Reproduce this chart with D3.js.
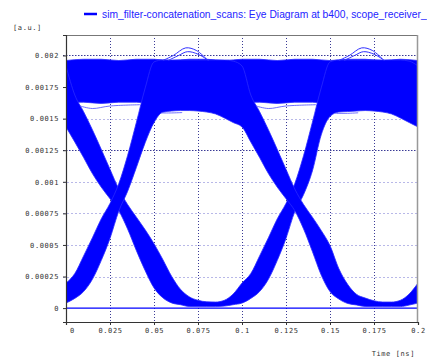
<!DOCTYPE html>
<html><head><meta charset="utf-8">
<script src="https://cdn.jsdelivr.net/npm/d3@7/dist/d3.min.js"></script>
<style>html,body{margin:0;padding:0;background:#fff;overflow:hidden}</style>
</head><body>
<svg id="c" width="427" height="361"></svg>
<script>
// ---------- data ----------
const legendLabel = "sim_filter-concatenation_scans: Eye Diagram at b400, scope_receiver_";
const yUnitLabel = "[a.u.]";
const xUnitLabel = "Time [ns]";
const xTicks = [0,0.025,0.05,0.075,0.1,0.125,0.15,0.175,0.2];
const xTickLabels = ["0","0.025","0.05","0.075","0.1","0.125","0.15","0.175","0.2"];
const yTicks = [0,0.00025,0.0005,0.00075,0.001,0.00125,0.0015,0.00175,0.002];
const yTickLabels = ["0","0.00025","0.0005","0.00075","0.001","0.00125","0.0015","0.00175","0.002"];

const timeGrid = [0,0.005,0.01,0.015,0.02,0.025,0.03,0.035,0.04,0.045,0.05,0.055,0.06,0.065,0.07,0.075,0.08,0.085,0.09,0.095,0.1,0.105,0.11,0.115,0.12,0.125,0.13,0.135,0.14,0.145,0.15,0.155,0.16,0.165,0.17,0.175,0.18,0.185,0.19,0.195,0.2];

// band of traces that starts high, falls through the first crossing, rises through the second
const bandAUpper = [0.001917,0.001687,0.001555,0.001412,0.001258,0.001099,0.000943,0.000820,0.000720,0.000620,0.000510,0.000385,0.000252,0.000150,0.000090,0.000062,0.000050,0.000048,0.000062,0.000112,0.000198,0.000274,0.000413,0.000557,0.000706,0.000829,0.000986,0.001208,0.001471,0.001743,0.001949,0.001964,0.001964,0.001964,0.001964,0.001964,0.001964,0.001964,0.001964,0.001955,0.001917];
const bandALower = [0.001434,0.001315,0.001192,0.001065,0.000958,0.000866,0.000771,0.000626,0.000455,0.000296,0.000160,0.000082,0.000041,0.000027,0.000013,0.000012,0.000012,0.000012,0.000016,0.000027,0.000040,0.000077,0.000131,0.000228,0.000376,0.000552,0.000764,0.000899,0.001086,0.001371,0.001517,0.001552,0.001556,0.001560,0.001564,0.001560,0.001552,0.001537,0.001505,0.001469,0.001434];
// band of traces that starts low, rises through the first crossing, falls through the second
const bandBUpper = [0.000198,0.000274,0.000413,0.000557,0.000706,0.000829,0.000986,0.001208,0.001471,0.001743,0.001949,0.001964,0.001964,0.001964,0.001964,0.001964,0.001964,0.001964,0.001964,0.001955,0.001917,0.001687,0.001555,0.001412,0.001258,0.001099,0.000943,0.000820,0.000720,0.000615,0.000495,0.000313,0.000189,0.000110,0.000080,0.000058,0.000048,0.000048,0.000062,0.000112,0.000198];
const bandBLower = [0.000040,0.000077,0.000131,0.000228,0.000376,0.000552,0.000768,0.000924,0.001114,0.001310,0.001469,0.001551,0.001560,0.001564,0.001564,0.001560,0.001552,0.001537,0.001505,0.001469,0.001434,0.001315,0.001192,0.001065,0.000958,0.000866,0.000771,0.000626,0.000448,0.000262,0.000131,0.000072,0.000037,0.000025,0.000013,0.000012,0.000012,0.000012,0.000012,0.000024,0.000040];

// steady high level
const highTime = [0,0.01,0.02,0.03,0.04,0.05,0.06,0.07,0.08,0.09,0.1,0.11,0.12,0.13,0.14,0.15,0.16,0.17,0.18,0.19,0.2];
const highUpper = [0.00196,0.00197,0.00197,0.00196,0.00197,0.00197,0.00196,0.00197,0.00197,0.00196,0.00197,0.00197,0.00196,0.00197,0.00197,0.00196,0.00197,0.00197,0.00196,0.00197,0.00196];
const highLower = [0.00163,0.00163,0.00162,0.00163,0.00163,0.00162,0.00163,0.00163,0.00162,0.00163,0.00163,0.00163,0.00162,0.00163,0.00163,0.00162,0.00163,0.00163,0.00162,0.00163,0.00163];

// individual visible traces (overshoots, strays, zero trace)
const overshoot1a = [[0.055,0.00196],[0.061,0.00200],[0.068,0.00206],[0.074,0.00204],[0.080,0.00197]];
const overshoot1b = [[0.058,0.00196],[0.064,0.00200],[0.069,0.00203],[0.075,0.00201],[0.081,0.00196]];
const overshoot2a = [[0.155,0.00196],[0.161,0.00200],[0.168,0.00206],[0.174,0.00204],[0.180,0.00197]];
const overshoot2b = [[0.158,0.00196],[0.164,0.00200],[0.169,0.00203],[0.175,0.00201],[0.181,0.00196]];
const strayTrace1 = [[0.054,0.001545],[0.060,0.001545],[0.066,0.001548]];
const strayTrace2 = [[0.153,0.001542],[0.160,0.001542],[0.166,0.001546]];
const strayTrace3 = [[0.008,0.00160],[0.015,0.00158],[0.025,0.00160],[0.042,0.00161]];
const strayTrace4 = [[0.108,0.00160],[0.115,0.00158],[0.125,0.00160],[0.142,0.00161]];
const zeroTrace = [[0,0],[0.2,0]];

// ---------- drawing ----------
const L = 66, R = 418, T = 35, B = 322;
const svg = d3.select("#c");
const x = d3.scaleLinear().domain([0,0.2]).range([L,R]);
const y = d3.scaleLinear().domain([-0.00011,0.002162]).range([B,T]);
const monoFont = "'DejaVu Sans Mono', monospace";

svg.append("defs").append("clipPath").attr("id","clip")
  .append("rect").attr("x",L).attr("y",T).attr("width",R-L).attr("height",B-T);

// gridlines
const grid = svg.append("g");
grid.selectAll("line.v").data(xTicks.slice(1,-1)).join("line")
  .attr("x1",d=>Math.round(x(d))+0.5).attr("x2",d=>Math.round(x(d))+0.5)
  .attr("y1",T).attr("y2",B)
  .attr("stroke","#3a3a96").attr("stroke-width",1).attr("stroke-dasharray","1,2");
grid.selectAll("line.h").data(yTicks.slice(1)).join("line")
  .attr("x1",L-3).attr("x2",R)
  .attr("y1",d=>Math.round(y(d))+0.5).attr("y2",d=>Math.round(y(d))+0.5)
  .attr("stroke",d=>(d===0.002||d===0.00125)?"#3a3a96":"#b8b8e8")
  .attr("stroke-width",1)
  .attr("stroke-dasharray",d=>(d===0.002||d===0.00125)?"1.5,1.5":"2,2");

// data
const plot = svg.append("g").attr("clip-path","url(#clip)");
const blue = "#0000ff";
function band(times, lo, hi){
  const data = times.map((t,i)=>({t, lo:lo[i], hi:hi[i]}));
  return d3.area().x(d=>x(d.t)).y0(d=>y(d.lo)).y1(d=>y(d.hi)).curve(d3.curveMonotoneX)(data);
}
plot.append("path").attr("d",band(highTime,highLower,highUpper))
  .attr("fill",blue).attr("stroke","#2a2aff").attr("stroke-width",0.8);
plot.append("path").attr("d",band(timeGrid,bandALower,bandAUpper))
  .attr("fill",blue).attr("stroke","#2a2aff").attr("stroke-width",0.8);
plot.append("path").attr("d",band(timeGrid,bandBLower,bandBUpper))
  .attr("fill",blue).attr("stroke","#2a2aff").attr("stroke-width",0.8);

const line = d3.line().x(d=>x(d[0])).y(d=>y(d[1])).curve(d3.curveCatmullRom);
[overshoot1a,overshoot1b,overshoot2a,overshoot2b].forEach(tr=>{
  plot.append("path").attr("d",line(tr)).attr("fill","none")
    .attr("stroke","#3030ff").attr("stroke-width",1);
});
[strayTrace1,strayTrace2,strayTrace3,strayTrace4].forEach(tr=>{
  plot.append("path").attr("d",line(tr)).attr("fill","none")
    .attr("stroke","#4a4aff").attr("stroke-width",0.8);
});
plot.append("path").attr("d",d3.line().x(d=>x(d[0])).y(d=>y(d[1]))(zeroTrace))
  .attr("fill","none").attr("stroke",blue).attr("stroke-width",1.4);

// frame
svg.append("line").attr("x1",L).attr("x2",R).attr("y1",T+0.5).attr("y2",T+0.5)
  .attr("stroke","#777").attr("stroke-width",1);
svg.append("line").attr("x1",R-0.5).attr("x2",R-0.5).attr("y1",T).attr("y2",B)
  .attr("stroke","#999").attr("stroke-width",1.5);

// axes
const xAxis = d3.axisBottom(x).tickValues(xTicks)
  .tickFormat((d,i)=>xTickLabels[i]).tickSize(3).tickPadding(3);
const gx = svg.append("g").attr("transform",`translate(0,${B})`).call(xAxis);
gx.select(".domain").attr("stroke","#333").attr("stroke-width",1.2);
gx.selectAll(".tick line").attr("stroke","#333");
gx.selectAll(".tick text").attr("font-family",monoFont).attr("font-size",7)
  .attr("letter-spacing",0.6).attr("fill","#333");
gx.selectAll(".tick text").filter((d,i)=>i===0).attr("dx",6);

const yAxis = d3.axisLeft(y).tickValues(yTicks)
  .tickFormat((d,i)=>yTickLabels[i]).tickSize(3).tickPadding(4);
const gy = svg.append("g").attr("transform",`translate(${L},0)`).call(yAxis);
gy.select(".domain").attr("stroke","#333").attr("stroke-width",1.2);
gy.selectAll(".tick line").attr("stroke","#333");
gy.selectAll(".tick text").attr("font-family",monoFont).attr("font-size",7)
  .attr("letter-spacing",0.6).attr("fill","#333");

// unit labels
svg.append("text").attr("x",13).attr("y",29.5).text(yUnitLabel)
  .attr("font-family",monoFont).attr("font-size",7).attr("letter-spacing",0.6).attr("fill","#333");
svg.append("text").attr("x",415).attr("y",356).attr("text-anchor","end").text(xUnitLabel)
  .attr("font-family",monoFont).attr("font-size",7).attr("letter-spacing",0.6).attr("fill","#333");

// legend
svg.append("line").attr("x1",84).attr("x2",97).attr("y1",14).attr("y2",14)
  .attr("stroke",blue).attr("stroke-width",2.5);
const lt = svg.append("text").attr("x",102).attr("y",17.5).text(legendLabel)
  .attr("font-family","'Liberation Sans', Arial, sans-serif").attr("font-size",10).attr("fill","#2424ff");
const w = lt.node().getComputedTextLength();
lt.attr("font-size", 10*325/w);
</script>
</body></html>
